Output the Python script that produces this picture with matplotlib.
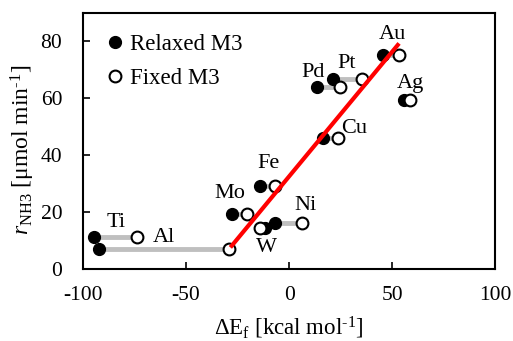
import matplotlib

matplotlib.use("Agg")
import matplotlib.pyplot as plt

metals = ["Ti", "Al", "Mo", "Fe", "W", "Ni", "Cu", "Pd", "Pt", "Au", "Ag"]
ef_relaxed = [-94.7, -92.2, -27.7, -14.1, -11.5, -6.8, 16.5, 13.6, 21.4, 45.6, 55.8]
ef_fixed = [-73.8, -29.1, -20.4, -6.8, -14.1, 6.3, 23.8, 24.8, 35.4, 53.4, 58.7]
rate = [11.2, 7.0, 19.3, 29.1, 14.4, 16.1, 46.0, 63.9, 66.7, 75.1, 59.3]
label_xy = [(-84, 16.5), (-61, 11.0), (-28.6, 26.7), (-10.2, 37.2), (-11, 7.4),
            (7.8, 22.5), (31.6, 49.5), (11.7, 69.0), (27.7, 72.3), (50, 82.5),
            (58.7, 65.3)]
fit_x = [-28.5, 53.4]
fit_y = [7.6, 79.3]

plt.rcParams["font.family"] = ["Liberation Serif", "DejaVu Serif"]
plt.rcParams["mathtext.fontset"] = "custom"
plt.rcParams["mathtext.rm"] = "Liberation Serif"
plt.rcParams["mathtext.it"] = "Liberation Serif:italic"
plt.rcParams["axes.unicode_minus"] = False
plt.rcParams["font.size"] = 15.5

fig = plt.figure(figsize=(5.13, 3.41), dpi=100)
ax = fig.add_axes([0.162, 0.211, 0.803, 0.751])

# grey bars join the relaxed and fixed value of each metal
for x0, x1, y in zip(ef_relaxed, ef_fixed, rate):
    ax.plot([x0, x1], [y, y], color="#bfbfbf", lw=3.5, zorder=1, solid_capstyle="butt")

ax.plot(ef_relaxed, rate, "o", ms=8.5, color="black", zorder=2, label="Relaxed M3")
ax.plot(ef_fixed, rate, "o", ms=8.5, mfc="white", mec="black", mew=1.5, zorder=3,
        label="Fixed M3")
ax.plot(fit_x, fit_y, color="red", lw=3, zorder=4, solid_capstyle="butt")

for name, (tx, ty) in zip(metals, label_xy):
    ax.text(tx, ty, name, ha="center", va="center", fontsize=16)

ax.set_xlim(-100, 100)
ax.set_ylim(0, 90)
ax.set_xticks([-100, -50, 0, 50, 100])
ax.set_yticks([0, 20, 40, 60, 80])
ax.tick_params(direction="in", length=5, width=1.2, labelsize=15.5)
ax.tick_params(axis="x", pad=12)
ax.tick_params(axis="y", pad=15)
for s in ax.spines.values():
    s.set_linewidth(1.5)

ax.set_xlabel(r"$\Delta$E$_\mathrm{f}$ [kcal mol$^{\text{-1}}$]", fontsize=16.5, labelpad=7)
ax.set_ylabel(r"$r_\mathrm{NH3}$ [μmol min$^{\text{-1}}$]", fontsize=17)
ax.yaxis.set_label_coords(-0.112, 0.465)
ax.legend(loc="upper left", frameon=False, handletextpad=0.15, handlelength=1,
          fontsize=16.5, labelspacing=0.6, borderaxespad=0.6, borderpad=0.3)

fig.savefig("out.png", dpi=100)
